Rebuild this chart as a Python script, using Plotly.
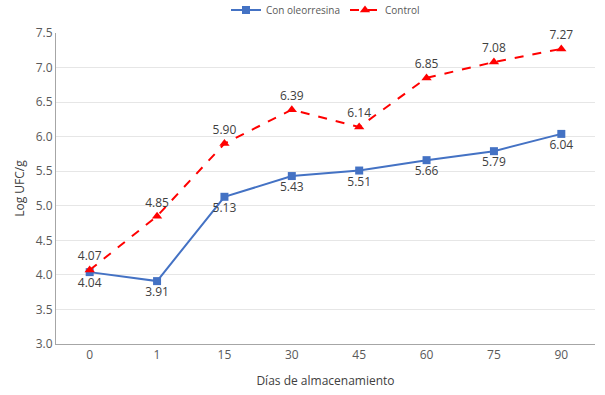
import plotly.graph_objects as go

dias = ["0", "1", "15", "30", "45", "60", "75", "90"]
con_oleorresina = [4.04, 3.91, 5.13, 5.43, 5.51, 5.66, 5.79, 6.04]
control = [4.07, 4.85, 5.90, 6.39, 6.14, 6.85, 7.08, 7.27]
y_ticks = [3.0, 3.5, 4.0, 4.5, 5.0, 5.5, 6.0, 6.5, 7.0, 7.5]

font_fam = "Open Sans, Noto Sans, sans-serif"
txt_col = "#404040"

fig = go.Figure()
fig.add_trace(go.Scatter(
    x=dias, y=con_oleorresina, name="Con oleorresina",
    mode="lines+markers+text",
    line=dict(color="#4472C4", width=2),
    marker=dict(symbol="square", size=8, color="#4472C4"),
    text=[f"{v:.2f}" for v in con_oleorresina],
    textposition="bottom center",
    textfont=dict(size=12, color=txt_col, family=font_fam),
    cliponaxis=False,
))
fig.add_trace(go.Scatter(
    x=dias, y=control, name="Control",
    mode="lines+markers+text",
    line=dict(color="#FF0000", width=2, dash="dash"),
    marker=dict(symbol="triangle-up", size=9, color="#FF0000"),
    text=[f"{v:.2f}" for v in control],
    textposition="top center",
    textfont=dict(size=12, color=txt_col, family=font_fam),
    cliponaxis=False,
))

fig.update_layout(
    width=605, height=395,
    margin=dict(l=56, r=10, t=33, b=51, autoexpand=False),
    paper_bgcolor="white", plot_bgcolor="white",
    font=dict(family=font_fam, size=11, color="#595959"),
    legend=dict(orientation="h", x=0.5, xanchor="center", yref="container", y=0.975, yanchor="middle",
                font=dict(size=10, color="#595959"), bgcolor="rgba(0,0,0,0)",
                itemwidth=30),
    xaxis=dict(
        type="category", categoryorder="array", categoryarray=dias,
        title=dict(text="Días de almacenamiento", font=dict(size=12, color="#404040"), standoff=14),
        showline=True, linecolor="#A6A6A6", linewidth=1,
        showgrid=False, ticks="", tickfont=dict(size=12, color="#595959"),
        range=[-0.5, 7.5], automargin=False,
    ),
    yaxis=dict(
        title=dict(text="Log UFC/g", font=dict(size=12, color="#404040"), standoff=8),
        range=[3.0, 7.5], tickvals=y_ticks, ticktext=[f"{v:.1f}" for v in y_ticks],
        showline=True, linecolor="#A6A6A6", linewidth=1,
        showgrid=True, gridcolor="#E6E6E6", gridwidth=1,
        zeroline=False, ticks="", tickfont=dict(size=12, color="#595959"),
        automargin=False,
    ),
)

fig.write_html("out.html", config={"displayModeBar": False},
               post_script="document.body.style.margin='0';")
